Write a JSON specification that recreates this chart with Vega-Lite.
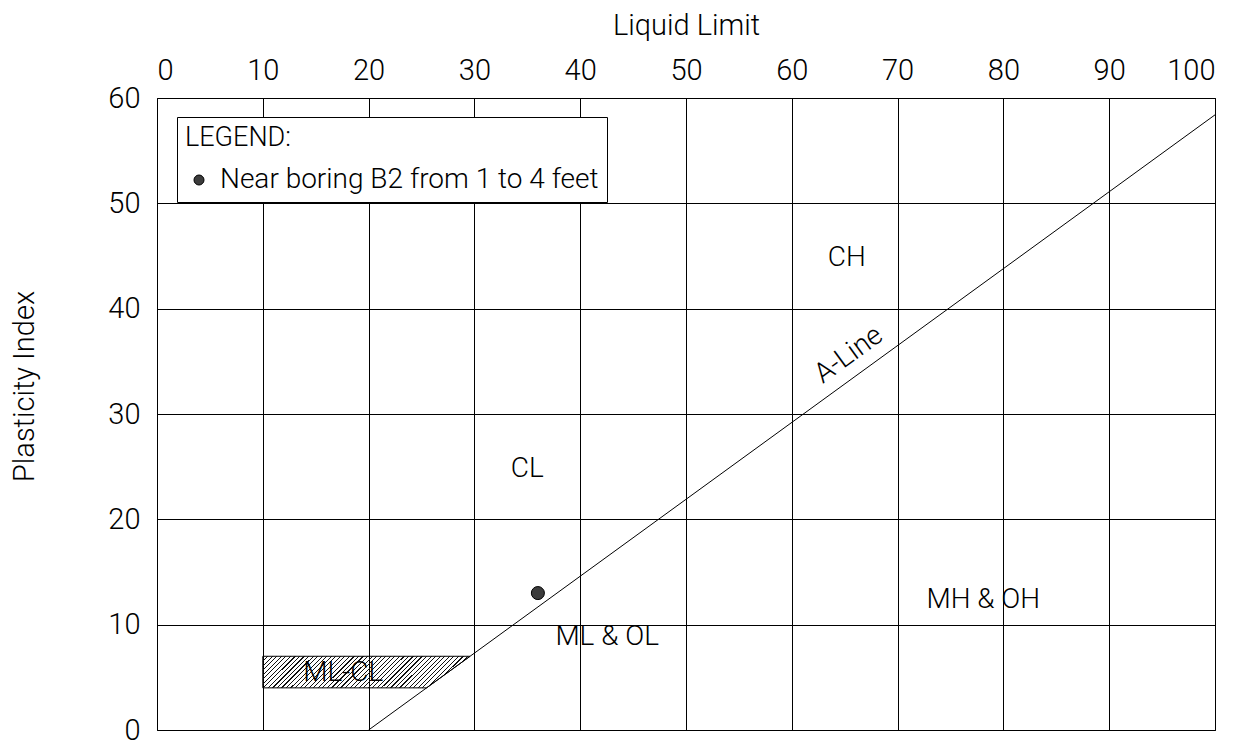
{
  "$schema": "https://vega.github.io/schema/vega-lite/v6.json",
  "width": 1058,
  "height": 632,
  "autosize": {"type": "none"},
  "padding": {"left": 157, "top": 98, "right": 39, "bottom": 15},
  "background": "white",
  "config": {
    "font": "Roboto",
    "view": {"stroke": "#000", "strokeWidth": 1},
    "axis": {
      "labelFont": "Roboto", "labelFontWeight": 300, "labelFontSize": 29, "labelColor": "#000",
      "titleFont": "Roboto", "titleFontWeight": 300, "titleFontSize": 29, "titleColor": "#000",
      "gridColor": "#000", "gridOpacity": 1, "gridWidth": 1, "domain": false, "ticks": false
    },
    "text": {"font": "Roboto", "fontWeight": 300, "fontSize": 28, "fill": "#000"}
  },
  "encoding": {
    "x": {
      "field": "LL", "type": "quantitative", "title": "Liquid Limit",
      "scale": {"domain": [0, 100], "nice": false, "zero": false},
      "axis": {"orient": "top", "values": [0, 10, 20, 30, 40, 50, 60, 70, 80, 90, 100], "grid": true,
               "labelPadding": 13, "titleX": 529, "titleY": -64, "titleBaseline": "alphabetic", "titleAlign": "center"}
    },
    "y": {
      "field": "PI", "type": "quantitative", "title": "Plasticity Index",
      "scale": {"domain": [0, 60], "nice": false, "zero": false},
      "axis": {"values": [0, 10, 20, 30, 40, 50, 60], "grid": true, "labelPadding": 17,
               "titleAngle": 270, "titleX": -124, "titleY": 288, "titleBaseline": "alphabetic", "titleAlign": "center"}
    }
  },
  "layer": [
    {
      "data": {"values": [
        {"LL": 10, "PI": 7, "PIlow": 4},
        {"LL": 25.48, "PI": 7, "PIlow": 4},
        {"LL": 29.59, "PI": 7, "PIlow": 7}
      ]},
      "mark": {
        "type": "area", "orient": "vertical", "stroke": "#000", "strokeWidth": 1,
        "fill": {"gradient": "linear", "x1": 0, "y1": 0, "x2": 1.1266, "y2": 0.1723, "stops": [
{"offset":0,"color":"rgba(0,0,0,0)"},{"offset":0,"color":"#111"},{"offset":0.005,"color":"#111"},{"offset":0.005,"color":"rgba(0,0,0,0)"},
{"offset":0.019,"color":"rgba(0,0,0,0)"},{"offset":0.019,"color":"#111"},{"offset":0.024,"color":"#111"},{"offset":0.024,"color":"rgba(0,0,0,0)"},
{"offset":0.038,"color":"rgba(0,0,0,0)"},{"offset":0.038,"color":"#111"},{"offset":0.043,"color":"#111"},{"offset":0.043,"color":"rgba(0,0,0,0)"},
{"offset":0.057,"color":"rgba(0,0,0,0)"},{"offset":0.057,"color":"#111"},{"offset":0.062,"color":"#111"},{"offset":0.062,"color":"rgba(0,0,0,0)"},
{"offset":0.076,"color":"rgba(0,0,0,0)"},{"offset":0.076,"color":"#111"},{"offset":0.081,"color":"#111"},{"offset":0.081,"color":"rgba(0,0,0,0)"},
{"offset":0.095,"color":"rgba(0,0,0,0)"},{"offset":0.095,"color":"#111"},{"offset":0.1,"color":"#111"},{"offset":0.1,"color":"rgba(0,0,0,0)"},
{"offset":0.114,"color":"rgba(0,0,0,0)"},{"offset":0.114,"color":"#111"},{"offset":0.119,"color":"#111"},{"offset":0.119,"color":"rgba(0,0,0,0)"},
{"offset":0.133,"color":"rgba(0,0,0,0)"},{"offset":0.133,"color":"#111"},{"offset":0.138,"color":"#111"},{"offset":0.138,"color":"rgba(0,0,0,0)"},
{"offset":0.152,"color":"rgba(0,0,0,0)"},{"offset":0.152,"color":"#111"},{"offset":0.157,"color":"#111"},{"offset":0.157,"color":"rgba(0,0,0,0)"},
{"offset":0.171,"color":"rgba(0,0,0,0)"},{"offset":0.171,"color":"#111"},{"offset":0.176,"color":"#111"},{"offset":0.176,"color":"rgba(0,0,0,0)"},
{"offset":0.19,"color":"rgba(0,0,0,0)"},{"offset":0.19,"color":"#111"},{"offset":0.195,"color":"#111"},{"offset":0.195,"color":"rgba(0,0,0,0)"},
{"offset":0.209,"color":"rgba(0,0,0,0)"},{"offset":0.209,"color":"#111"},{"offset":0.214,"color":"#111"},{"offset":0.214,"color":"rgba(0,0,0,0)"},
{"offset":0.228,"color":"rgba(0,0,0,0)"},{"offset":0.228,"color":"#111"},{"offset":0.233,"color":"#111"},{"offset":0.233,"color":"rgba(0,0,0,0)"},
{"offset":0.247,"color":"rgba(0,0,0,0)"},{"offset":0.247,"color":"#111"},{"offset":0.252,"color":"#111"},{"offset":0.252,"color":"rgba(0,0,0,0)"},
{"offset":0.266,"color":"rgba(0,0,0,0)"},{"offset":0.266,"color":"#111"},{"offset":0.271,"color":"#111"},{"offset":0.271,"color":"rgba(0,0,0,0)"},
{"offset":0.285,"color":"rgba(0,0,0,0)"},{"offset":0.285,"color":"#111"},{"offset":0.29,"color":"#111"},{"offset":0.29,"color":"rgba(0,0,0,0)"},
{"offset":0.304,"color":"rgba(0,0,0,0)"},{"offset":0.304,"color":"#111"},{"offset":0.309,"color":"#111"},{"offset":0.309,"color":"rgba(0,0,0,0)"},
{"offset":0.323,"color":"rgba(0,0,0,0)"},{"offset":0.323,"color":"#111"},{"offset":0.328,"color":"#111"},{"offset":0.328,"color":"rgba(0,0,0,0)"},
{"offset":0.342,"color":"rgba(0,0,0,0)"},{"offset":0.342,"color":"#111"},{"offset":0.347,"color":"#111"},{"offset":0.347,"color":"rgba(0,0,0,0)"},
{"offset":0.361,"color":"rgba(0,0,0,0)"},{"offset":0.361,"color":"#111"},{"offset":0.366,"color":"#111"},{"offset":0.366,"color":"rgba(0,0,0,0)"},
{"offset":0.38,"color":"rgba(0,0,0,0)"},{"offset":0.38,"color":"#111"},{"offset":0.385,"color":"#111"},{"offset":0.385,"color":"rgba(0,0,0,0)"},
{"offset":0.399,"color":"rgba(0,0,0,0)"},{"offset":0.399,"color":"#111"},{"offset":0.404,"color":"#111"},{"offset":0.404,"color":"rgba(0,0,0,0)"},
{"offset":0.418,"color":"rgba(0,0,0,0)"},{"offset":0.418,"color":"#111"},{"offset":0.423,"color":"#111"},{"offset":0.423,"color":"rgba(0,0,0,0)"},
{"offset":0.437,"color":"rgba(0,0,0,0)"},{"offset":0.437,"color":"#111"},{"offset":0.442,"color":"#111"},{"offset":0.442,"color":"rgba(0,0,0,0)"},
{"offset":0.456,"color":"rgba(0,0,0,0)"},{"offset":0.456,"color":"#111"},{"offset":0.461,"color":"#111"},{"offset":0.461,"color":"rgba(0,0,0,0)"},
{"offset":0.475,"color":"rgba(0,0,0,0)"},{"offset":0.475,"color":"#111"},{"offset":0.48,"color":"#111"},{"offset":0.48,"color":"rgba(0,0,0,0)"},
{"offset":0.494,"color":"rgba(0,0,0,0)"},{"offset":0.494,"color":"#111"},{"offset":0.499,"color":"#111"},{"offset":0.499,"color":"rgba(0,0,0,0)"},
{"offset":0.513,"color":"rgba(0,0,0,0)"},{"offset":0.513,"color":"#111"},{"offset":0.518,"color":"#111"},{"offset":0.518,"color":"rgba(0,0,0,0)"},
{"offset":0.532,"color":"rgba(0,0,0,0)"},{"offset":0.532,"color":"#111"},{"offset":0.537,"color":"#111"},{"offset":0.537,"color":"rgba(0,0,0,0)"},
{"offset":0.551,"color":"rgba(0,0,0,0)"},{"offset":0.551,"color":"#111"},{"offset":0.556,"color":"#111"},{"offset":0.556,"color":"rgba(0,0,0,0)"},
{"offset":0.57,"color":"rgba(0,0,0,0)"},{"offset":0.57,"color":"#111"},{"offset":0.575,"color":"#111"},{"offset":0.575,"color":"rgba(0,0,0,0)"},
{"offset":0.589,"color":"rgba(0,0,0,0)"},{"offset":0.589,"color":"#111"},{"offset":0.594,"color":"#111"},{"offset":0.594,"color":"rgba(0,0,0,0)"},
{"offset":0.608,"color":"rgba(0,0,0,0)"},{"offset":0.608,"color":"#111"},{"offset":0.613,"color":"#111"},{"offset":0.613,"color":"rgba(0,0,0,0)"},
{"offset":0.627,"color":"rgba(0,0,0,0)"},{"offset":0.627,"color":"#111"},{"offset":0.632,"color":"#111"},{"offset":0.632,"color":"rgba(0,0,0,0)"},
{"offset":0.646,"color":"rgba(0,0,0,0)"},{"offset":0.646,"color":"#111"},{"offset":0.651,"color":"#111"},{"offset":0.651,"color":"rgba(0,0,0,0)"},
{"offset":0.665,"color":"rgba(0,0,0,0)"},{"offset":0.665,"color":"#111"},{"offset":0.67,"color":"#111"},{"offset":0.67,"color":"rgba(0,0,0,0)"},
{"offset":0.684,"color":"rgba(0,0,0,0)"},{"offset":0.684,"color":"#111"},{"offset":0.689,"color":"#111"},{"offset":0.689,"color":"rgba(0,0,0,0)"},
{"offset":0.703,"color":"rgba(0,0,0,0)"},{"offset":0.703,"color":"#111"},{"offset":0.708,"color":"#111"},{"offset":0.708,"color":"rgba(0,0,0,0)"},
{"offset":0.722,"color":"rgba(0,0,0,0)"},{"offset":0.722,"color":"#111"},{"offset":0.727,"color":"#111"},{"offset":0.727,"color":"rgba(0,0,0,0)"},
{"offset":0.741,"color":"rgba(0,0,0,0)"},{"offset":0.741,"color":"#111"},{"offset":0.746,"color":"#111"},{"offset":0.746,"color":"rgba(0,0,0,0)"},
{"offset":0.76,"color":"rgba(0,0,0,0)"},{"offset":0.76,"color":"#111"},{"offset":0.765,"color":"#111"},{"offset":0.765,"color":"rgba(0,0,0,0)"},
{"offset":0.779,"color":"rgba(0,0,0,0)"},{"offset":0.779,"color":"#111"},{"offset":0.784,"color":"#111"},{"offset":0.784,"color":"rgba(0,0,0,0)"},
{"offset":0.798,"color":"rgba(0,0,0,0)"},{"offset":0.798,"color":"#111"},{"offset":0.803,"color":"#111"},{"offset":0.803,"color":"rgba(0,0,0,0)"},
{"offset":0.817,"color":"rgba(0,0,0,0)"},{"offset":0.817,"color":"#111"},{"offset":0.822,"color":"#111"},{"offset":0.822,"color":"rgba(0,0,0,0)"},
{"offset":0.836,"color":"rgba(0,0,0,0)"},{"offset":0.836,"color":"#111"},{"offset":0.841,"color":"#111"},{"offset":0.841,"color":"rgba(0,0,0,0)"},
{"offset":0.855,"color":"rgba(0,0,0,0)"},{"offset":0.855,"color":"#111"},{"offset":0.86,"color":"#111"},{"offset":0.86,"color":"rgba(0,0,0,0)"},
{"offset":0.874,"color":"rgba(0,0,0,0)"},{"offset":0.874,"color":"#111"},{"offset":0.879,"color":"#111"},{"offset":0.879,"color":"rgba(0,0,0,0)"},
{"offset":0.893,"color":"rgba(0,0,0,0)"},{"offset":0.893,"color":"#111"},{"offset":0.898,"color":"#111"},{"offset":0.898,"color":"rgba(0,0,0,0)"},
{"offset":0.912,"color":"rgba(0,0,0,0)"},{"offset":0.912,"color":"#111"},{"offset":0.917,"color":"#111"},{"offset":0.917,"color":"rgba(0,0,0,0)"},
{"offset":0.931,"color":"rgba(0,0,0,0)"},{"offset":0.931,"color":"#111"},{"offset":0.936,"color":"#111"},{"offset":0.936,"color":"rgba(0,0,0,0)"},
{"offset":0.95,"color":"rgba(0,0,0,0)"},{"offset":0.95,"color":"#111"},{"offset":0.955,"color":"#111"},{"offset":0.955,"color":"rgba(0,0,0,0)"},
{"offset":0.969,"color":"rgba(0,0,0,0)"},{"offset":0.969,"color":"#111"},{"offset":0.974,"color":"#111"},{"offset":0.974,"color":"rgba(0,0,0,0)"},
{"offset":0.988,"color":"rgba(0,0,0,0)"},{"offset":0.988,"color":"#111"},{"offset":0.993,"color":"#111"},{"offset":0.993,"color":"rgba(0,0,0,0)"},
{"offset":1,"color":"rgba(0,0,0,0)"}
        ]}
      },
      "encoding": {"y2": {"field": "PIlow"}}
    },
    {
      "data": {"values": [{"LL": 20, "PI": 0}, {"LL": 100, "PI": 58.4}]},
      "mark": {"type": "line", "color": "#000", "strokeWidth": 1},
      "encoding": {}
    },
    {
      "data": {"values": [
        {"LL": 65.2, "PI": 44.8, "label": "CH"},
        {"LL": 35.0, "PI": 24.8, "label": "CL"},
        {"LL": 42.55, "PI": 8.8, "label": "ML & OL"},
        {"LL": 78.1, "PI": 12.3, "label": "MH & OH"},
        {"LL": 17.6, "PI": 5.45, "label": "ML-CL"}
      ]},
      "mark": {"type": "text", "align": "center", "baseline": "middle"},
      "encoding": {"text": {"field": "label", "type": "nominal"}}
    },
    {
      "data": {"values": [{"LL": 65.4, "PI": 35.6, "label": "A-Line"}]},
      "mark": {"type": "text", "align": "center", "baseline": "middle", "angle": 324},
      "encoding": {"text": {"field": "label", "type": "nominal"}}
    },
    {
      "data": {"values": [{"LL": 36, "PI": 13, "sample": "Near boring B2 from 1 to 4 feet"}]},
      "mark": {"type": "point", "filled": true, "size": 170, "stroke": "#000", "strokeWidth": 1, "opacity": 1},
      "encoding": {
        "color": {
          "field": "sample", "type": "nominal",
          "scale": {"range": ["#3c3c3c"]},
          "legend": {
            "title": "LEGEND:", "orient": "none", "legendX": 20, "legendY": 19,
            "strokeColor": "#000", "fillColor": "#fff", "padding": 8,
            "titleFont": "Roboto", "titleFontWeight": 300, "titleFontSize": 27, "titleColor": "#000", "titlePadding": 14,
            "labelFont": "Roboto", "labelFontWeight": 300, "labelFontSize": 28, "labelColor": "#000", "labelOffset": 7, "labelLimit": 0,
            "symbolType": "circle", "symbolSize": 100, "symbolStrokeColor": "#000", "symbolStrokeWidth": 1, "symbolOpacity": 1
          }
        }
      }
    }
  ]
}
